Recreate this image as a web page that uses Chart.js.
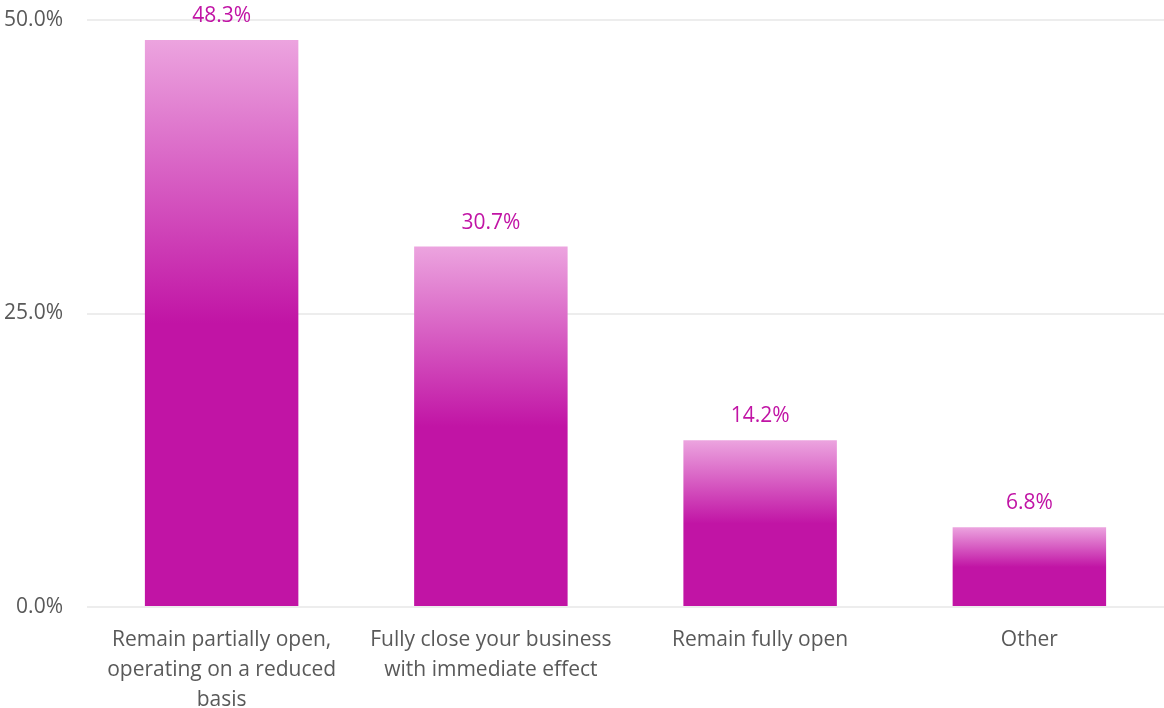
<!DOCTYPE html>
<html lang="en">
<head>
    <meta charset="UTF-8">
    <title>Business Status</title>
    <script src="https://cdn.jsdelivr.net/npm/chart.js@4.4.1/dist/chart.umd.min.js"></script>
    <style>
        html, body {
            margin: 0;
            padding: 0;
            background: #ffffff;
        }
        #wrap {
            position: relative;
            width: 1164px;
            height: 708px;
        }
    </style>
</head>
<body>
    <div id="wrap">
        <canvas id="statusChart"></canvas>
    </div>

    <script>
// categories (multi-line labels) and values in percent
const categories = [
    ['Remain partially open,', 'operating on a reduced', 'basis'],
    ['Fully close your business', 'with immediate effect'],
    ['Remain fully open'],
    ['Other']
];
const shares = [48.3, 30.7, 14.2, 6.8];
const yTicks = [0, 25, 50];

const FONT = '"Open Sans", Lato, sans-serif';
const BAR_DARK = '#C114A5';
const BAR_LIGHT = '#ECA4DF';

// vertical fade per bar: light at the top, solid from the middle down
function barFill(ctx) {
    const chart = ctx.chart;
    if (!chart.chartArea || ctx.raw === undefined) return BAR_DARK;
    const y = chart.scales.y;
    const top = y.getPixelForValue(ctx.raw);
    const bottom = y.getPixelForValue(0);
    if (bottom - top < 1) return BAR_DARK;
    const g = chart.ctx.createLinearGradient(0, top, 0, bottom);
    g.addColorStop(0, BAR_LIGHT);
    g.addColorStop(0.5, BAR_DARK);
    g.addColorStop(1, BAR_DARK);
    return g;
}

// value labels above each bar
const valueLabels = {
    id: 'valueLabels',
    afterDatasetsDraw(chart) {
        const ctx = chart.ctx;
        const meta = chart.getDatasetMeta(0);
        ctx.save();
        ctx.font = '21px ' + FONT;
        ctx.fillStyle = BAR_DARK;
        ctx.textAlign = 'center';
        ctx.textBaseline = 'middle';
        meta.data.forEach((bar, i) => {
            ctx.fillText(shares[i].toFixed(1) + '%', bar.x, bar.y - 24);
        });
        ctx.restore();
    }
};

new Chart(document.getElementById('statusChart'), {
    type: 'bar',
    data: {
        labels: categories,
        datasets: [{
            data: shares,
            backgroundColor: barFill,
            borderWidth: 0,
            categoryPercentage: 0.57,
            barPercentage: 1
        }]
    },
    options: {
        responsive: true,
        maintainAspectRatio: false,
        animation: false,
        layout: { padding: { top: 20, right: 0, left: 0, bottom: 0 } },
        plugins: {
            legend: { display: false },
            tooltip: { enabled: false }
        },
        scales: {
            x: {
                grid: { display: false },
                border: { display: false },
                afterFit(axis) {
                    axis.height = 101;
                    axis.paddingLeft = 0;
                    axis.paddingRight = 0;
                },
                ticks: {
                    color: '#595959',
                    font: { family: FONT, size: 21, lineHeight: 1.43 },
                    maxRotation: 0,
                    autoSkip: false,
                    padding: 10
                }
            },
            y: {
                min: 0,
                max: 50,
                afterBuildTicks(axis) {
                    axis.ticks = yTicks.map(v => ({ value: v }));
                },
                afterFit(axis) {
                    axis.width = 87;
                    axis.paddingTop = 0;
                    axis.paddingBottom = 0;
                },
                grid: { color: '#EDEDED', lineWidth: 2, drawTicks: false },
                border: { display: false },
                ticks: {
                    color: '#595959',
                    font: { family: FONT, size: 21 },
                    padding: 24,
                    callback: v => v.toFixed(1) + '%'
                }
            }
        }
    },
    plugins: [valueLabels]
});
    </script>
</body>
</html>
